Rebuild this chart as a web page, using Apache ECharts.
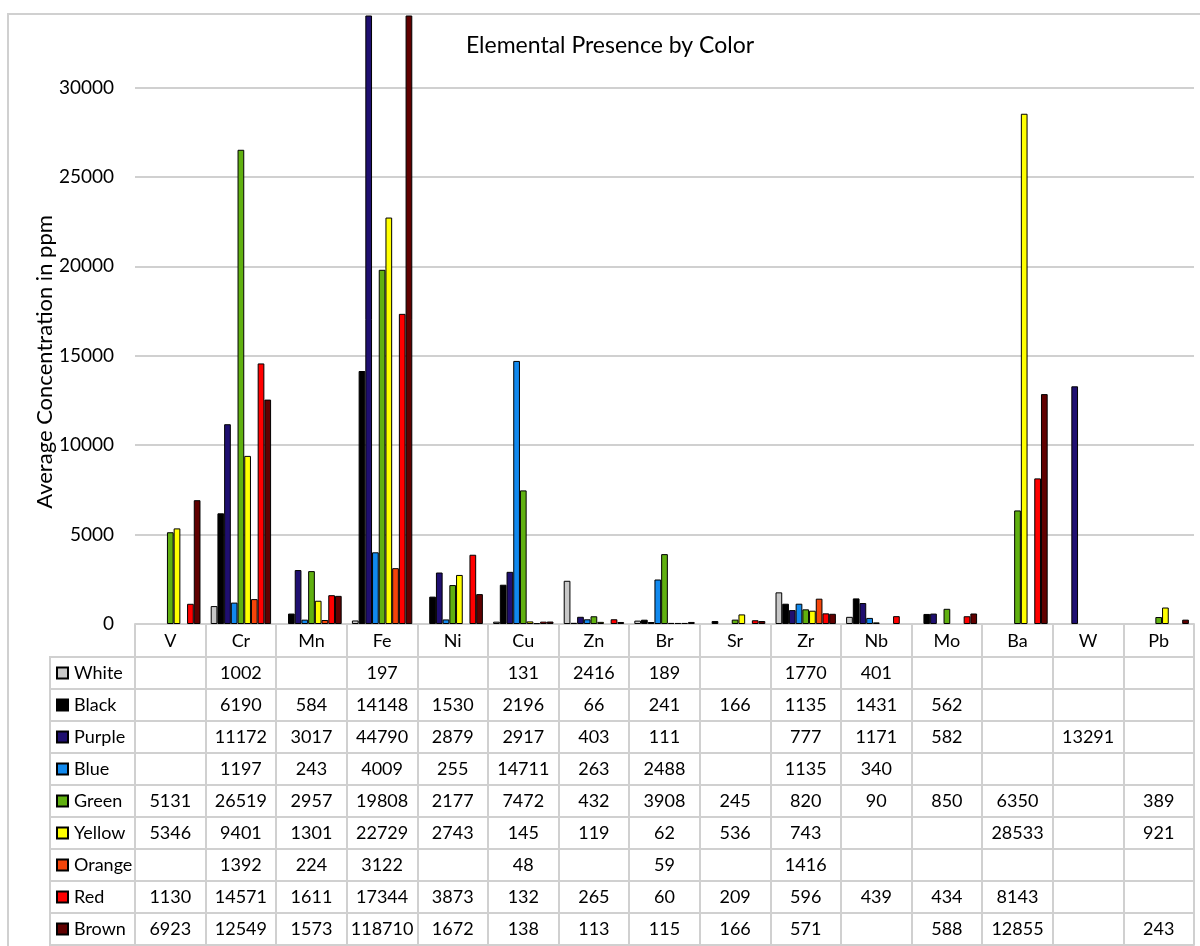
<!DOCTYPE html>
<html>
<head>
<meta charset="utf-8">
<script src="https://cdn.jsdelivr.net/npm/echarts@6/dist/echarts.min.js"></script>
<style>
  html, body { margin: 0; padding: 0; background: #ffffff; }
  #chart { width: 1200px; height: 946px; }
</style>
</head>
<body>
<div id="chart"></div>
<script>
// Elements measured (columns of the chart and of the data table)
const elements = ['V', 'Cr', 'Mn', 'Fe', 'Ni', 'Cu', 'Zn', 'Br', 'Sr', 'Zr', 'Nb', 'Mo', 'Ba', 'W', 'Pb'];

// Average concentration (ppm) for each sample colour; null = not detected
const white  = [null, 1002, null, 197, null, 131, 2416, 189, null, 1770, 401, null, null, null, null];
const black  = [null, 6190, 584, 14148, 1530, 2196, 66, 241, 166, 1135, 1431, 562, null, null, null];
const purple = [null, 11172, 3017, 44790, 2879, 2917, 403, 111, null, 777, 1171, 582, null, 13291, null];
const blue   = [null, 1197, 243, 4009, 255, 14711, 263, 2488, null, 1135, 340, null, null, null, null];
const green  = [5131, 26519, 2957, 19808, 2177, 7472, 432, 3908, 245, 820, 90, 850, 6350, null, 389];
const yellow = [5346, 9401, 1301, 22729, 2743, 145, 119, 62, 536, 743, null, null, 28533, null, 921];
const orange = [null, 1392, 224, 3122, null, 48, null, 59, null, 1416, null, null, null, null, null];
const red    = [1130, 14571, 1611, 17344, 3873, 132, 265, 60, 209, 596, 439, 434, 8143, null, null];
const brown  = [6923, 12549, 1573, 118710, 1672, 138, 113, 115, 166, 571, null, 588, 12855, null, 243];

const seriesNames  = ['White', 'Black', 'Purple', 'Blue', 'Green', 'Yellow', 'Orange', 'Red', 'Brown'];
const seriesValues = [white, black, purple, blue, green, yellow, orange, red, brown];
const seriesColors = ['#c8c8c8', '#000000', '#1f0f70', '#1189ee', '#60b010', '#ffff00', '#f5450a', '#ff0000', '#600000'];

// Value axis range
const yMin = 0;
const yMax = 34000;
const yStep = 5000;

const chartTitle = 'Elemental Presence by Color';
const yAxisTitle = 'Average Concentration in ppm';

// ---- layout ----
const FONT = 'Lato, "Liberation Sans", sans-serif';
const LINE = '#d0d0d0';
const GRID = { left: 135, right: 6, top: 16, bottom: 322 };
const HEADER_H = 33;     // table header row (element names)
const ROW_H = 32;        // table data rows
const TABLE_TOP = 946 - GRID.bottom;   // y of the x axis baseline
const KEY_LEFT = 50;     // left edge of the legend column of the table
const TABLE_FS = 18;

const tableText = { fontFamily: FONT, fontSize: TABLE_FS, color: '#000' };
const labelMargin = (h) => Math.round((h - TABLE_FS) / 2);

// Header axis: element names
const xAxes = [{
  type: 'category',
  data: elements,
  position: 'bottom',
  axisLine: { lineStyle: { color: LINE, width: 2 } },
  axisTick: { show: true, interval: 0, length: HEADER_H, lineStyle: { color: LINE, width: 2 } },
  axisLabel: Object.assign({ interval: 0, margin: labelMargin(HEADER_H) }, tableText),
  splitLine: { show: false }
}];

// One axis per table row, its labels are that series' values
seriesValues.forEach((vals, k) => {
  xAxes.push({
    type: 'category',
    data: elements,
    position: 'bottom',
    offset: HEADER_H + ROW_H * k,
    axisLine: { lineStyle: { color: LINE, width: 2 } },
    axisTick: { show: true, interval: 0, length: ROW_H, lineStyle: { color: LINE, width: 2 } },
    axisLabel: Object.assign({
      interval: 0,
      margin: labelMargin(ROW_H),
      formatter: (v, i) => (vals[i] == null ? '' : String(vals[i]))
    }, tableText),
    splitLine: { show: false }
  });
});

// Closing line under the last row
xAxes.push({
  type: 'category',
  data: elements,
  position: 'bottom',
  offset: HEADER_H + ROW_H * seriesValues.length,
  axisLine: { lineStyle: { color: LINE, width: 2 } },
  axisTick: { show: false },
  axisLabel: { show: false },
  splitLine: { show: false }
});

// Lines of the legend column of the table
const keyLines = [];
const firstRowY = TABLE_TOP + HEADER_H;
const lastRowY = firstRowY + ROW_H * seriesValues.length;
for (let k = 0; k <= seriesValues.length; k++) {
  const y = firstRowY + ROW_H * k;
  keyLines.push({
    type: 'line',
    shape: { x1: KEY_LEFT, y1: y, x2: GRID.left, y2: y },
    style: { stroke: LINE, lineWidth: 2 }
  });
}
keyLines.push({
  type: 'line',
  shape: { x1: KEY_LEFT, y1: firstRowY - 1, x2: KEY_LEFT, y2: lastRowY + 1 },
  style: { stroke: LINE, lineWidth: 2 }
});

const chart = echarts.init(document.getElementById('chart'), null, { renderer: 'canvas' });

chart.setOption({
  backgroundColor: '#ffffff',
  animation: false,
  textStyle: { fontFamily: FONT },
  grid: GRID,
  legend: {
    data: seriesNames,
    orient: 'vertical',
    left: 56,
    top: firstRowY + ROW_H / 2 - TABLE_FS / 2,
    padding: 0,
    icon: 'rect',
    itemWidth: 11,
    itemHeight: 11,
    itemGap: ROW_H - TABLE_FS,
    selectedMode: false,
    textStyle: { fontFamily: FONT, fontSize: TABLE_FS, color: '#000', lineHeight: TABLE_FS, padding: [0, 0, 0, 1] }
  },
  xAxis: xAxes,
  yAxis: {
    type: 'value',
    min: yMin,
    max: yMax,
    interval: yStep,
    axisLine: { show: false },
    axisTick: { show: false },
    axisLabel: {
      fontFamily: FONT, fontSize: 19, color: '#000', margin: 21, showMaxLabel: false,
      formatter: (v) => String(v)
    },
    splitLine: { show: true, showMaxLine: false, lineStyle: { color: LINE, width: 2 } }
  },
  series: seriesNames.map((name, k) => ({
    name: name,
    type: 'bar',
    xAxisIndex: 0,
    data: seriesValues[k],
    barGap: '0%',
    barCategoryGap: '14.5%',
    itemStyle: { color: seriesColors[k], borderColor: '#000', borderWidth: 1 }
  })),
  graphic: [
    {
      type: 'rect',
      z: -10,
      shape: { x: 8, y: 14, width: 1400, height: 1100 },
      style: { fill: 'none', stroke: LINE, lineWidth: 2 }
    },
    {
      type: 'text',
      x: 610,
      y: 46,
      style: {
        text: chartTitle,
        fontFamily: FONT,
        fontSize: 23,
        fill: '#000',
        align: 'center',
        verticalAlign: 'middle'
      }
    },
    {
      type: 'text',
      x: 45,
      y: 362,
      rotation: Math.PI / 2,
      style: {
        text: yAxisTitle,
        fontFamily: FONT,
        fontSize: 22,
        fill: '#000',
        align: 'center',
        verticalAlign: 'middle'
      }
    }
  ].concat(keyLines)
});
</script>
</body>
</html>
